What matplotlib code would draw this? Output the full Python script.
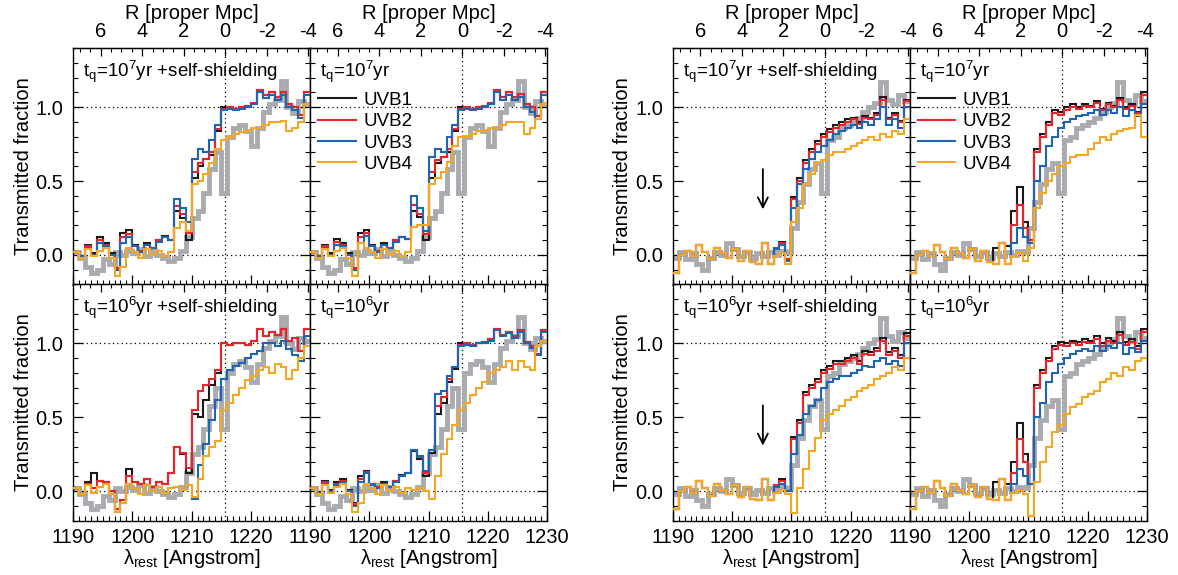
import numpy as np
import matplotlib
matplotlib.use('agg')
import matplotlib.pyplot as plt
from matplotlib.ticker import MultipleLocator, FixedLocator, FuncFormatter

plt.rcParams['font.family'] = ['Liberation Sans', 'DejaVu Sans']
plt.rcParams['mathtext.fontset'] = 'custom'
plt.rcParams['mathtext.rm'] = 'Liberation Sans'
plt.rcParams['mathtext.default'] = 'regular'

## wavelength grid (rest frame, 1 Angstrom bins)
lam_edges = np.arange(1190, 1231, 1)
lam_lya = 1215.67      # Ly-alpha, R = 0
ang_per_mpc = 3.5      # Angstrom per proper Mpc
r_major = [6, 4, 2, 0, -2, -4]
r_minor = np.arange(-4, 7.01, 0.5)

## observed spectra (grey), one per quasar
obs_left = [0.02, -0.02, -0.08, -0.12, -0.10, -0.03, -0.06, 0.02, 0.00, 0.03,
            0.01, 0.04, -0.01, 0.03, 0.00, -0.02, -0.04, -0.02, 0.03, 0.12,
            0.25, 0.30, 0.42, 0.58, 0.70, 0.42, 0.80, 0.86, 0.88, 0.84,
            0.74, 0.86, 0.97, 1.02, 1.05, 1.18, 1.00, 0.96, 1.04, 1.02]
obs_right = [-0.02, 0.02, -0.03, 0.01, -0.06, -0.10, -0.02, 0.02, 0.00, 0.08,
             0.04, -0.01, 0.02, -0.02, 0.01, -0.01, 0.02, 0.00, 0.03, 0.02,
             0.18, 0.36, 0.48, 0.58, 0.62, 0.42, 0.78, 0.80, 0.86, 0.88,
             0.90, 0.93, 0.97, 1.00, 1.03, 1.17, 1.05, 1.02, 1.08, 1.04]

## model spectra, left quasar
p1_uvb1 = [0.02, -0.01, 0.07, 0.01, 0.12, 0.08, 0.01, -0.09, 0.15, 0.17, 0.07, 0.03, 0.08, 0.05, 0.10, 0.13, 0.10,
           0.30, 0.25, 0.10, 0.52, 0.60, 0.65, 0.68, 0.84, 1.00, 1.00, 0.99, 1.00, 1.01, 1.03, 1.12, 1.08, 1.10,
           1.07, 1.10, 1.02, 1.00, 0.95, 1.10]
p1_uvb2 = [0.02, -0.01, 0.06, 0.00, 0.10, 0.07, 0.00, -0.09, 0.12, 0.14, 0.06, 0.03, 0.07, 0.05, 0.10, 0.12, 0.10,
           0.33, 0.28, 0.15, 0.56, 0.62, 0.65, 0.70, 0.85, 0.99, 1.00, 0.99, 1.00, 1.01, 1.03, 1.12, 1.08, 1.10,
           1.07, 1.10, 1.02, 1.00, 0.95, 1.10]
p1_uvb3 = [0.02, -0.01, 0.05, 0.00, 0.08, 0.06, 0.00, -0.10, 0.08, 0.12, 0.06, 0.02, 0.07, 0.05, 0.09, 0.12, 0.10,
           0.38, 0.32, 0.22, 0.65, 0.72, 0.70, 0.78, 0.88, 0.98, 0.99, 0.98, 0.99, 1.00, 1.02, 1.10, 1.06, 1.08,
           1.05, 1.08, 1.00, 0.98, 0.93, 1.08]
p1_uvb4 = [0.02, -0.02, 0.04, -0.01, 0.03, 0.05, -0.02, -0.14, -0.08, 0.05, 0.02, -0.02, 0.04, 0.00, 0.03, -0.01, 0.02,
           0.18, 0.22, 0.16, 0.48, 0.50, 0.55, 0.62, 0.72, 0.78, 0.80, 0.82, 0.83, 0.84, 0.86, 0.86, 0.88, 0.90,
           0.90, 0.91, 0.84, 0.86, 0.90, 1.02]

p2_uvb1 = [0.02, -0.01, 0.07, 0.01, 0.11, 0.08, 0.01, -0.09, 0.15, 0.17, 0.07, 0.03, 0.08, 0.05, 0.10, 0.12, 0.11,
           0.30, 0.26, 0.10, 0.52, 0.62, 0.66, 0.70, 0.84, 1.00, 1.00, 0.99, 1.00, 1.01, 1.03, 1.12, 1.07, 1.10,
           1.07, 1.09, 1.02, 1.00, 0.94, 1.10]
p2_uvb2 = [0.02, -0.01, 0.06, 0.00, 0.09, 0.07, 0.00, -0.09, 0.12, 0.15, 0.06, 0.03, 0.07, 0.05, 0.10, 0.12, 0.11,
           0.34, 0.28, 0.14, 0.56, 0.64, 0.66, 0.72, 0.85, 0.99, 1.00, 0.99, 1.00, 1.01, 1.03, 1.12, 1.07, 1.10,
           1.07, 1.09, 1.02, 1.00, 0.94, 1.10]
p2_uvb3 = [0.02, -0.01, 0.05, 0.00, 0.07, 0.06, 0.00, -0.10, 0.08, 0.13, 0.06, 0.02, 0.07, 0.05, 0.09, 0.12, 0.11,
           0.40, 0.32, 0.16, 0.66, 0.72, 0.70, 0.80, 0.88, 0.98, 0.99, 0.98, 0.99, 1.00, 1.02, 1.10, 1.05, 1.08,
           1.05, 1.07, 1.00, 0.97, 0.92, 1.08]
p2_uvb4 = [0.02, -0.02, 0.04, -0.01, 0.03, 0.05, -0.02, -0.14, 0.08, 0.05, 0.02, -0.02, 0.04, 0.00, 0.03, -0.01, 0.02,
           0.19, 0.20, 0.20, 0.48, 0.52, 0.56, 0.63, 0.74, 0.80, 0.80, 0.82, 0.84, 0.84, 0.86, 0.86, 0.88, 0.90,
           0.90, 0.90, 0.82, 0.86, 0.92, 1.02]

p3_uvb1 = [0.02, -0.02, 0.06, 0.12, 0.07, 0.06, 0.00, -0.12, -0.06, 0.15, 0.06, 0.05, 0.08, 0.03, 0.06, 0.05, 0.12,
           0.30, 0.25, 0.12, 0.52, 0.50, 0.62, 0.72, 0.80, 1.00, 0.99, 1.00, 1.00, 0.99, 1.02, 1.10, 1.05, 1.08,
           1.06, 1.10, 1.02, 1.04, 0.95, 1.10]
p3_uvb2 = [0.02, -0.02, 0.05, 0.02, 0.07, 0.06, 0.00, -0.12, -0.06, 0.10, 0.06, 0.05, 0.08, 0.03, 0.06, 0.05, 0.12,
           0.30, 0.26, 0.16, 0.55, 0.68, 0.72, 0.76, 0.82, 1.00, 0.99, 1.00, 1.00, 0.99, 1.02, 1.10, 1.05, 1.08,
           1.06, 1.10, 1.02, 1.04, 0.95, 1.10]
p3_uvb3 = [0.02, -0.02, 0.04, -0.01, 0.03, 0.05, -0.02, -0.14, -0.08, 0.05, 0.02, -0.02, 0.04, 0.00, 0.03, -0.01, 0.02,
           0.03, 0.01, 0.04, -0.05, 0.18, 0.32, 0.48, 0.62, 0.76, 0.82, 0.85, 0.87, 0.90, 0.93, 0.95, 1.00, 1.00,
           0.98, 1.02, 0.96, 0.92, 0.88, 1.05]
p3_uvb4 = [0.02, -0.02, 0.04, -0.01, 0.03, 0.05, -0.02, -0.14, -0.08, 0.05, 0.02, -0.02, 0.04, 0.00, 0.03, -0.01, 0.02,
           0.03, 0.01, 0.04, -0.04, 0.08, 0.24, 0.30, 0.34, 0.55, 0.60, 0.65, 0.70, 0.75, 0.78, 0.82, 0.84, 0.80,
           0.86, 0.84, 0.76, 0.82, 0.90, 0.98]

p4_uvb1 = [0.02, -0.01, 0.07, 0.01, 0.06, 0.08, 0.01, -0.08, 0.10, 0.14, 0.05, 0.03, 0.06, 0.03, 0.07, 0.11, 0.12,
           0.27, 0.22, 0.10, 0.26, 0.52, 0.60, 0.74, 0.83, 1.00, 1.00, 0.99, 1.00, 1.01, 1.03, 1.10, 1.06, 1.08,
           1.05, 1.09, 1.01, 0.98, 0.93, 1.09]
p4_uvb2 = [0.02, -0.01, 0.06, 0.00, 0.05, 0.07, 0.00, -0.09, 0.08, 0.13, 0.05, 0.03, 0.05, 0.03, 0.07, 0.10, 0.12,
           0.28, 0.23, 0.12, 0.28, 0.58, 0.64, 0.76, 0.84, 0.99, 1.00, 0.99, 1.00, 1.01, 1.03, 1.10, 1.06, 1.08,
           1.05, 1.09, 1.01, 0.98, 0.93, 1.09]
p4_uvb3 = [0.02, -0.01, 0.05, 0.00, 0.04, 0.06, 0.00, -0.10, 0.06, 0.12, 0.04, 0.02, 0.05, 0.03, 0.06, 0.10, 0.12,
           0.28, 0.24, 0.14, 0.28, 0.66, 0.68, 0.78, 0.84, 0.98, 0.99, 0.98, 1.00, 1.00, 1.02, 1.09, 1.05, 1.07,
           1.04, 1.08, 1.00, 0.97, 0.92, 1.08]
p4_uvb4 = [0.02, -0.02, 0.04, -0.01, 0.03, 0.05, -0.02, -0.14, -0.08, 0.05, 0.02, -0.02, 0.04, 0.00, 0.03, -0.01, 0.02,
           0.01, 0.02, 0.00, -0.05, 0.10, 0.25, 0.35, 0.45, 0.55, 0.60, 0.65, 0.70, 0.74, 0.80, 0.82, 0.84, 0.88,
           0.82, 0.88, 0.84, 0.82, 0.98, 1.02]

## model spectra, right quasar
p5_uvb1 = [-0.12, 0.00, 0.03, -0.01, 0.07, 0.02, -0.03, 0.05, 0.01, -0.02, 0.04, -0.04, 0.03, -0.05, -0.06, 0.08, -0.06,
           0.05, 0.09, -0.03, 0.39, 0.52, 0.64, 0.72, 0.77, 0.82, 0.85, 0.88, 0.90, 0.92, 0.93, 0.90, 0.94, 0.93,
           0.96, 1.07, 0.93, 0.96, 0.91, 1.05]
p5_uvb2 = [-0.12, 0.00, 0.03, -0.01, 0.07, 0.02, -0.03, 0.05, 0.01, -0.02, 0.04, -0.04, 0.03, -0.05, -0.06, 0.08, -0.06,
           0.05, 0.08, -0.03, 0.38, 0.50, 0.62, 0.70, 0.75, 0.80, 0.83, 0.86, 0.88, 0.90, 0.92, 0.89, 0.93, 0.92,
           0.95, 1.05, 0.92, 0.95, 0.90, 1.04]
p5_uvb3 = [-0.12, 0.00, 0.03, -0.01, 0.07, 0.02, -0.03, 0.05, 0.01, -0.02, 0.04, -0.04, 0.03, -0.05, -0.06, 0.08, -0.06,
           0.04, 0.07, -0.04, 0.32, 0.48, 0.58, 0.65, 0.70, 0.74, 0.78, 0.82, 0.84, 0.86, 0.88, 0.86, 0.90, 0.88,
           0.92, 1.00, 0.88, 0.92, 0.86, 1.00]
p5_uvb4 = [-0.12, 0.00, 0.03, -0.01, 0.07, 0.02, -0.03, 0.05, 0.01, -0.02, 0.04, -0.04, 0.03, -0.05, -0.06, 0.08, -0.06,
           -0.01, 0.01, -0.06, 0.22, 0.32, 0.48, 0.55, 0.62, 0.64, 0.68, 0.70, 0.70, 0.72, 0.74, 0.76, 0.78, 0.80,
           0.78, 0.82, 0.80, 0.84, 0.82, 0.92]

p6_uvb1 = [-0.12, 0.00, 0.03, -0.01, 0.07, 0.02, -0.03, 0.05, 0.01, -0.02, 0.04, -0.04, 0.03, -0.05, 0.05, 0.08, 0.06,
           0.30, 0.46, 0.22, 0.10, 0.72, 0.82, 0.90, 0.98, 0.97, 1.00, 1.02, 1.00, 1.02, 1.01, 1.04, 0.99, 1.03,
           1.01, 1.06, 1.00, 1.02, 0.97, 1.10]
p6_uvb2 = [-0.12, 0.00, 0.03, -0.01, 0.07, 0.02, -0.03, 0.05, 0.01, -0.02, 0.04, -0.04, 0.03, -0.05, -0.06, 0.08, -0.06,
           0.20, 0.34, 0.18, 0.10, 0.70, 0.80, 0.88, 0.96, 0.95, 0.98, 1.00, 0.99, 1.01, 1.00, 1.03, 0.98, 1.02,
           1.00, 1.05, 0.99, 1.01, 0.96, 1.08]
p6_uvb3 = [-0.12, 0.00, 0.03, -0.01, 0.07, 0.02, -0.03, 0.05, 0.01, -0.02, 0.04, -0.04, 0.03, -0.05, -0.06, 0.08, -0.06,
           0.08, 0.18, 0.12, 0.08, 0.50, 0.60, 0.74, 0.80, 0.86, 0.90, 0.92, 0.94, 0.95, 0.96, 0.98, 0.95, 0.98,
           0.96, 1.00, 0.94, 0.98, 0.94, 1.02]
p6_uvb4 = [-0.12, 0.00, 0.03, -0.01, 0.07, 0.02, -0.03, 0.05, 0.01, -0.02, 0.04, -0.04, 0.03, -0.05, -0.06, 0.08, -0.06,
           -0.01, 0.01, -0.04, 0.05, 0.32, 0.42, 0.50, 0.55, 0.60, 0.62, 0.66, 0.68, 0.68, 0.72, 0.76, 0.80, 0.78,
           0.82, 0.84, 0.85, 0.86, 0.95, 0.80]

p7_uvb1 = [-0.12, 0.00, 0.03, -0.01, 0.07, 0.02, -0.03, 0.05, 0.01, -0.02, 0.04, -0.04, 0.03, -0.05, -0.06, 0.08, -0.06,
           0.04, 0.08, 0.00, 0.37, 0.48, 0.67, 0.72, 0.76, 0.82, 0.85, 0.88, 0.88, 0.90, 0.92, 0.88, 0.95, 0.94,
           0.97, 1.04, 0.94, 0.97, 0.92, 1.07]
p7_uvb2 = [-0.12, 0.00, 0.03, -0.01, 0.07, 0.02, -0.03, 0.05, 0.01, -0.02, 0.04, -0.04, 0.03, -0.05, -0.06, 0.08, -0.06,
           0.04, 0.07, 0.00, 0.35, 0.46, 0.65, 0.70, 0.74, 0.80, 0.83, 0.86, 0.86, 0.88, 0.90, 0.86, 0.93, 0.92,
           0.95, 1.02, 0.92, 0.95, 0.90, 1.05]
p7_uvb3 = [-0.12, 0.00, 0.03, -0.01, 0.07, 0.02, -0.03, 0.05, 0.01, -0.02, 0.04, -0.04, 0.03, -0.05, -0.06, 0.08, -0.06,
           0.03, 0.05, 0.00, 0.25, 0.38, 0.52, 0.58, 0.62, 0.70, 0.74, 0.76, 0.78, 0.78, 0.80, 0.82, 0.85, 0.84,
           0.88, 0.90, 0.86, 0.88, 0.85, 1.00]
p7_uvb4 = [-0.12, 0.00, 0.03, -0.01, 0.07, 0.02, -0.03, 0.05, 0.01, -0.02, 0.04, -0.04, 0.03, -0.05, -0.06, 0.08, -0.06,
           -0.01, 0.01, -0.02, -0.15, 0.02, 0.15, 0.27, 0.36, 0.48, 0.52, 0.55, 0.58, 0.62, 0.64, 0.68, 0.70, 0.72,
           0.76, 0.78, 0.80, 0.84, 0.82, 0.90]

p8_uvb1 = [-0.12, 0.00, 0.03, -0.01, 0.07, 0.02, -0.03, 0.05, 0.01, -0.02, 0.04, -0.04, 0.03, -0.05, 0.06, 0.08, 0.05,
           0.20, 0.46, 0.25, 0.05, 0.72, 0.82, 0.90, 0.98, 1.01, 1.00, 1.02, 1.01, 1.03, 1.02, 1.05, 1.00, 1.04,
           1.02, 1.08, 1.01, 1.03, 0.98, 1.10]
p8_uvb2 = [-0.12, 0.00, 0.03, -0.01, 0.07, 0.02, -0.03, 0.05, 0.01, -0.02, 0.04, -0.04, 0.03, -0.05, -0.06, 0.08, -0.06,
           0.12, 0.35, 0.20, 0.05, 0.70, 0.80, 0.88, 0.96, 0.99, 0.98, 1.00, 0.99, 1.01, 1.00, 1.03, 0.98, 1.02,
           1.00, 1.06, 0.99, 1.01, 0.96, 1.08]
p8_uvb3 = [-0.12, 0.00, 0.03, -0.01, 0.07, 0.02, -0.03, 0.05, 0.01, -0.02, 0.04, -0.04, 0.03, -0.05, -0.06, 0.08, -0.06,
           0.05, 0.15, 0.10, 0.05, 0.50, 0.60, 0.74, 0.80, 0.86, 0.90, 0.93, 0.95, 0.96, 0.95, 0.98, 0.95, 0.98,
           0.97, 1.00, 0.93, 0.97, 0.94, 1.02]
p8_uvb4 = [-0.12, 0.00, 0.03, -0.01, 0.07, 0.02, -0.03, 0.05, 0.01, -0.02, 0.04, -0.04, 0.03, -0.05, -0.06, 0.08, -0.06,
           -0.01, 0.01, -0.02, -0.17, 0.06, 0.20, 0.30, 0.40, 0.45, 0.52, 0.57, 0.59, 0.64, 0.66, 0.68, 0.74, 0.76,
           0.80, 0.78, 0.84, 0.82, 0.88, 0.90]

uvb_names = ['UVB1', 'UVB2', 'UVB3', 'UVB4']
uvb_colors = ['#1a1a1a', '#e8232b', '#1f65b3', '#f5a623']
obs_color = '#a8abaf'

panel_titles = [r't$_q$=10$^7$yr +self-shielding', r't$_q$=10$^7$yr',
                r't$_q$=10$^6$yr +self-shielding', r't$_q$=10$^6$yr']

# arrow marking the foreground position in the right quasar
arrow_lam = 1205.2
arrow_top, arrow_tip = 0.60, 0.29

panels = [
    # (group, row, col, title index, models, observed)
    (0, 0, 0, 0, [p1_uvb1, p1_uvb2, p1_uvb3, p1_uvb4], obs_left),
    (0, 0, 1, 1, [p2_uvb1, p2_uvb2, p2_uvb3, p2_uvb4], obs_left),
    (0, 1, 0, 2, [p3_uvb1, p3_uvb2, p3_uvb3, p3_uvb4], obs_left),
    (0, 1, 1, 3, [p4_uvb1, p4_uvb2, p4_uvb3, p4_uvb4], obs_left),
    (1, 0, 0, 0, [p5_uvb1, p5_uvb2, p5_uvb3, p5_uvb4], obs_right),
    (1, 0, 1, 1, [p6_uvb1, p6_uvb2, p6_uvb3, p6_uvb4], obs_right),
    (1, 1, 0, 2, [p7_uvb1, p7_uvb2, p7_uvb3, p7_uvb4], obs_right),
    (1, 1, 1, 3, [p8_uvb1, p8_uvb2, p8_uvb3, p8_uvb4], obs_right),
]

def lam_to_r(lam):
    return (lam_lya - lam) / ang_per_mpc

def r_to_lam(r):
    return lam_lya - r * ang_per_mpc

group_left = [0.0620, 0.5711]
pw, ph = 0.2013, 0.4110
row_bottom = [0.5052, 0.0944]
fs = 14.5

fig = plt.figure(figsize=(11.78, 5.75), dpi=100)

for group, row, col, ti, models, obs in panels:
    ax = fig.add_axes([group_left[group] + col * pw, row_bottom[row], pw, ph])
    ax.stairs(obs, lam_edges, baseline=None, color=obs_color, lw=3.5, zorder=2)
    for k, (vals, name, c) in enumerate(zip(models, uvb_names, uvb_colors)):
        ax.stairs(vals, lam_edges, baseline=None, color=c, lw=1.5, label=name, zorder=3 + k)

    dots = (0, (1, 2.5))
    ax.axhline(0.0, color='k', lw=0.9, ls=dots, zorder=1)
    ax.axhline(1.0, color='k', lw=0.9, ls=dots, zorder=1)
    ax.axvline(lam_lya, color='k', lw=0.9, ls=dots, zorder=1)

    ax.set_xlim(1190, 1230)
    ax.set_ylim(-0.2, 1.4)
    ax.xaxis.set_major_locator(MultipleLocator(10))
    ax.xaxis.set_minor_locator(MultipleLocator(1))
    ax.yaxis.set_major_locator(FixedLocator([0.0, 0.5, 1.0]))
    ax.yaxis.set_minor_locator(MultipleLocator(0.1))
    ax.yaxis.set_major_formatter(FuncFormatter(lambda v, p: '%.1f' % v))
    ax.tick_params(which='both', direction='in', top=False, right=True, labelsize=fs)
    ax.tick_params(axis='x', pad=5)
    ax.tick_params(axis='y', pad=7)
    ax.tick_params(which='major', length=7, width=0.9)
    ax.tick_params(which='minor', length=3.5, width=0.8)
    for s in ax.spines.values():
        s.set_linewidth(1.0)

    # top axis: distance from the quasar
    sec = ax.secondary_xaxis('top', functions=(lam_to_r, r_to_lam))
    sec.xaxis.set_major_locator(FixedLocator(r_major))
    sec.xaxis.set_minor_locator(FixedLocator(r_minor))
    sec.tick_params(which='both', direction='in', labelsize=fs, pad=5)
    sec.tick_params(which='major', length=6, width=0.9)
    sec.tick_params(which='minor', length=3, width=0.8)
    sec.xaxis.set_major_formatter(FuncFormatter(lambda v, p: '%d' % round(v)))

    if row == 0:
        ax.tick_params(labelbottom=False)
        sec.set_xlabel('R [proper Mpc]', fontsize=fs, labelpad=2)
    else:
        sec.tick_params(labeltop=False)
        ax.set_xlabel(r'λ$_{rest}$ [Angstrom]', fontsize=fs, labelpad=0)
        if col == 0:
            ax.xaxis.set_major_formatter(FuncFormatter(lambda v, p: '' if v >= 1230 else '%d' % v))
    if col == 0:
        ax.set_ylabel('Transmitted fraction', fontsize=fs, labelpad=2)
    else:
        ax.tick_params(labelleft=False)

    ax.text(0.042, 0.90, panel_titles[ti], transform=ax.transAxes, fontsize=13.5, va='center')

    if row == 0 and col == 1:
        ax.legend(loc='upper left', bbox_to_anchor=(0.034, 0.815), frameon=False, fontsize=13.5,
                  handlelength=2.0, handletextpad=0.4, labelspacing=0.22, borderpad=0, borderaxespad=0)
    if group == 1 and col == 0:
        ax.annotate('', xy=(arrow_lam, arrow_tip), xytext=(arrow_lam, arrow_top),
                    arrowprops=dict(arrowstyle='->', lw=1.3, color='k', mutation_scale=18))

plt.savefig('out.png', dpi=100)
